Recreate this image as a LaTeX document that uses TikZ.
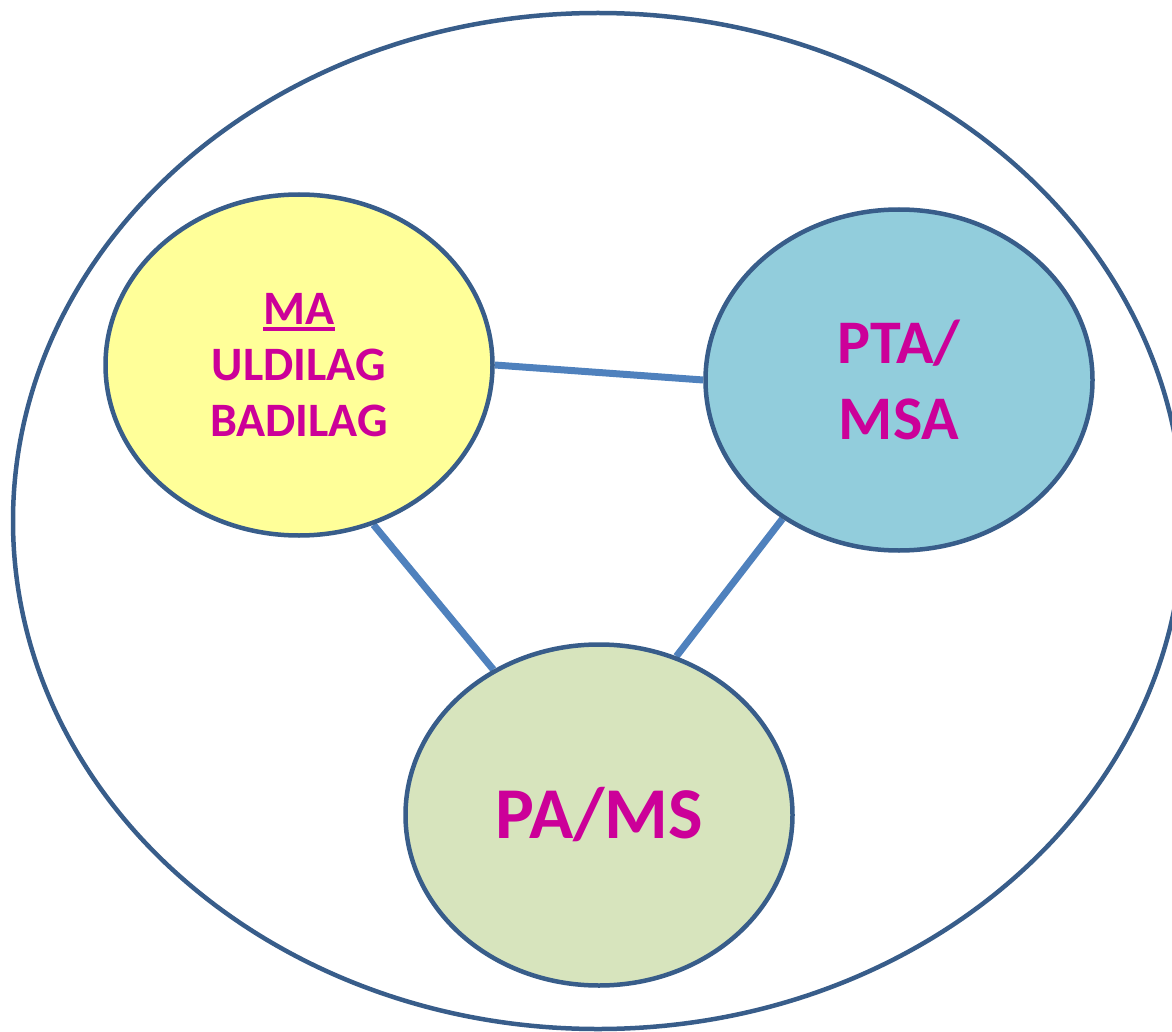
\documentclass[tikz,border=0pt]{standalone}
\usepackage{fontspec}
\setmainfont{Carlito}
\usetikzlibrary{shapes.geometric,backgrounds}
\definecolor{rimblue}{HTML}{385D8A}
\definecolor{linkblue}{HTML}{4F81BD}
\definecolor{padyellow}{HTML}{FFFF99}
\definecolor{padblue}{HTML}{92CDDC}
\definecolor{padgreen}{HTML}{D7E4BD}
\definecolor{labelpink}{HTML}{CC0099}
\newcommand{\maline}[1]{\setbox0=\hbox{#1}\rlap{\vrule width\wd0 height-3pt depth7pt}\box0}

\begin{document}
\begin{tikzpicture}[x=1pt,y=-1pt,
  every node/.style={ellipse, draw=rimblue, line width=4.5pt, minimum width=387pt, minimum height=341pt, inner sep=0pt, text=labelpink, align=center},
  link/.style={draw=linkblue, line width=7pt}]
\clip (0,0) rectangle (1172,1032);
\draw[rimblue, line width=4.5pt] (598,521) ellipse [x radius=585, y radius=508];

\node[fill=padyellow, font=\bfseries\fontsize{48}{56}\selectfont] (ma) at (299,365) {\maline{MA}\\ULDILAG\\BADILAG};
\node[fill=padblue, font=\bfseries\fontsize{62}{76}\selectfont] (pta) at (899,380) {PTA/\\MSA};
\node[fill=padgreen, font=\bfseries\fontsize{73}{86}\selectfont] (pams) at (599,815) {PA/MS};

\begin{scope}[on background layer]
\draw[link] (ma.0) -- (pta.180);
\draw[link] (ma.-65) -- (pams.126);
\draw[link] (pta.-130) -- (pams.64);
\end{scope}
\end{tikzpicture}
\end{document}
